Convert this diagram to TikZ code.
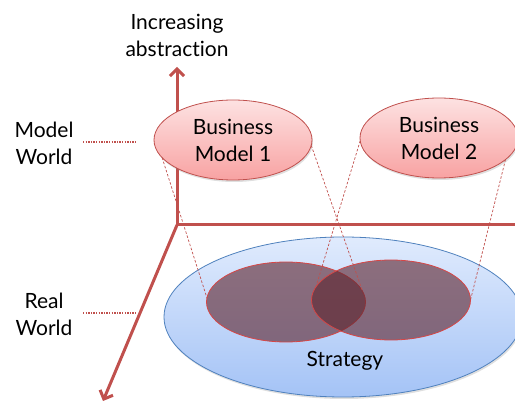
\documentclass[tikz,border=0pt]{standalone}
\usepackage{fontspec}
\setmainfont[Ligatures={NoCommon,NoDiscretionary}]{Lato}
\usetikzlibrary{shapes.geometric,arrows.meta,shadows}
\definecolor{axisred}{RGB}{192,80,77}
\definecolor{pinktop}{RGB}{253,226,226}
\definecolor{pinkbot}{RGB}{248,162,162}
\definecolor{bluetop}{RGB}{224,235,253}
\definecolor{bluebot}{RGB}{164,195,246}
\definecolor{blueedge}{RGB}{79,129,189}
\definecolor{mauve}{RGB}{95,38,48}
\definecolor{ringred}{RGB}{214,70,70}
\tikzset{
  lbl/.style={align=center, inner sep=0pt, font=\fontsize{21}{27}\selectfont},
  axisline/.style={draw=axisred, line width=3pt},
  axisarrow/.style={axisline, -{Straight Barb[length=7pt,width=14pt]}},
  model/.style={ellipse, draw=axisred, line width=0.8pt, top color=pinktop, bottom color=pinkbot,
    minimum width=158pt, minimum height=80pt, inner sep=0pt, outer sep=0pt, align=center,
    font=\fontsize{21}{27}\selectfont,
    drop shadow={opacity=0.25, shadow xshift=1pt, shadow yshift=-2pt}},
  strat/.style={ellipse, draw=blueedge, line width=0.8pt, top color=bluetop, bottom color=bluebot,
    minimum width=358pt, minimum height=160pt, inner sep=0pt, outer sep=0pt,
    drop shadow={opacity=0.25, shadow xshift=1pt, shadow yshift=-2pt}},
  inner/.style={ellipse, draw=ringred, line width=0.8pt, fill=mauve, fill opacity=0.62,
    minimum width=159pt, minimum height=80pt, inner sep=0pt, outer sep=0pt},
  dotline/.style={draw=axisred, line width=2pt, dash pattern=on 1.4pt off 1.2pt},
  proj/.style={draw=axisred, line width=0.7pt, dash pattern=on 2.5pt off 1.8pt},
}
\begin{document}
\begin{tikzpicture}[x=1pt,y=-1pt]
\useasboundingbox (0,0) rectangle (515,403);
\clip (0,0) rectangle (515,403);
% axes
\coordinate (o) at (177,225);
\coordinate (up) at (177,67);
\coordinate (rt) at (516,225);
\coordinate (dn) at (103,401);
\draw[axisarrow] (o) -- (up);
\draw[axisline] (o) -- (rt);
\draw[axisarrow] (o) -- (dn);
% labels
\node[lbl] (abs) at (177,35) {Increasing\\abstraction};
\node[lbl] (mw) at (44,143) {Model\\World};
\node[lbl] (rw) at (44,314) {Real\\World};
\coordinate (mwa) at (83,142);
\coordinate (mwb) at (137,142);
\coordinate (rwa) at (83,313);
\coordinate (rwb) at (137,313);
\draw[dotline] (mwa) -- (mwb);
\draw[dotline] (rwa) -- (rwb);
% ellipses
\node[strat] (st) at (343,317) {};
\node[font=\fontsize{21}{27}\selectfont] (stl) at (345,361) {Strategy};
\node[inner] (i1) at (286,302) {};
\node[inner] (i2) at (391,300) {};
\node[model] (bm1) at (233,140) {Business\\Model 1};
\node[model] (bm2) at (439,138) {Business\\Model 2};
% projection lines
\draw[proj] (bm1.194) -- (i1.177);
\draw[proj] (bm1.356) -- (i1.8);
\draw[proj] (bm2.182) -- (i2.170);
\draw[proj] (bm2.342) -- (i2.0);
\end{tikzpicture}
\end{document}
